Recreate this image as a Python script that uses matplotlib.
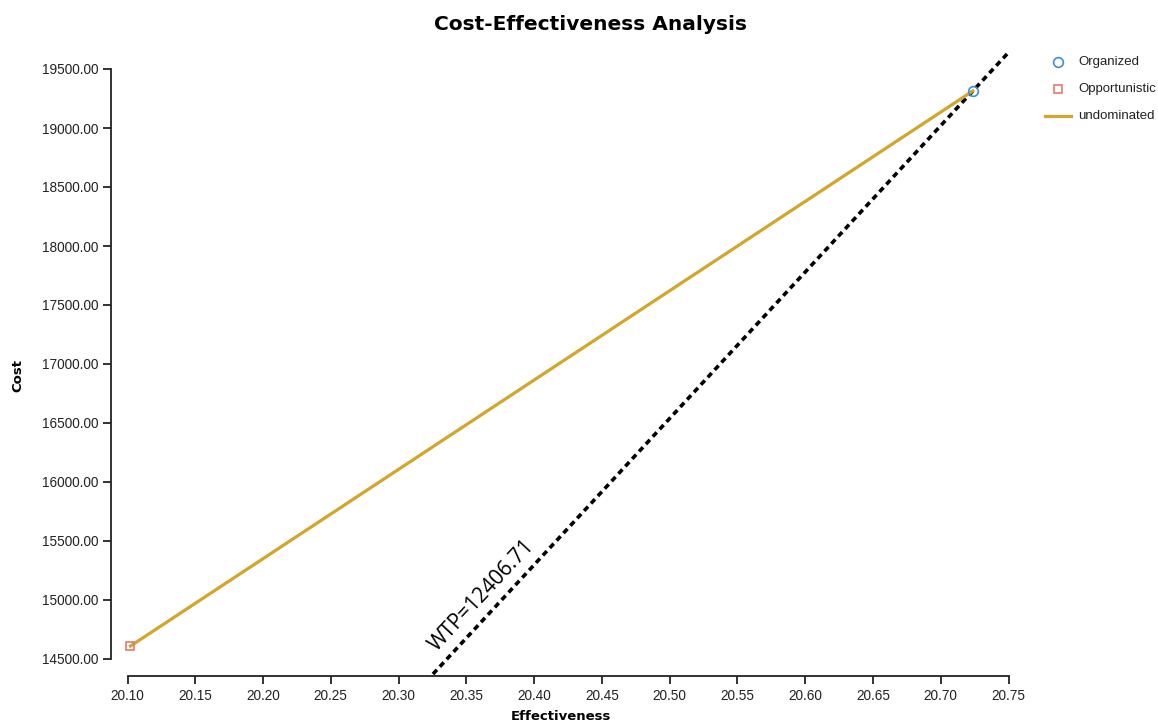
import numpy as np
import matplotlib
matplotlib.use('Agg')
import matplotlib.pyplot as plt

# Datos
strategies = ['Organized', 'Opportunistic']
effect = [20.7237, 20.1022]
cost = [19314.0, 14610.0]
wtp = 12406.71
xticks = [20.10, 20.15, 20.20, 20.25, 20.30, 20.35, 20.40, 20.45, 20.50,
          20.55, 20.60, 20.65, 20.70, 20.75]
yticks = [14500, 15000, 15500, 16000, 16500, 17000, 17500, 18000, 18500,
          19000, 19500]

W, H = 1158, 725
fig = plt.figure(figsize=(W / 100, H / 100), dpi=100)

# Área de gráfico en pixeles
x0, x1 = 111, 1008.5
y0, y1 = 50, 676
ax = fig.add_axes([x0 / W, 1 - y1 / H, (x1 - x0) / W, (y1 - y0) / H])

# Escalas: 20.10 en px 127.5, 20.75 en px 1008.5
pxx = (1008.5 - 127.5) / 0.65
xmin = 20.10 - (127.5 - x0) / pxx
pxy = 590 / 5000.0  # 19500 en px 69, 14500 en px 659
ymin = 14500 - (y1 - 659) / pxy
ymax = 19500 + (69 - y0) / pxy
ax.set_xlim(xmin, 20.75)
ax.set_ylim(ymin, ymax)

# Línea WTP por la estrategia Organized
xs = np.array([20.0, 20.8])
ys = cost[0] + wtp * (xs - effect[0])
ax.plot(xs, ys, color='black', lw=2.6, ls=(0, (1.6, 1.2)), zorder=2)

# Frontera no dominada
ax.plot([effect[1], effect[0]], [cost[1], cost[0]], color='#d4a52b', lw=2.3,
        zorder=3)
ax.plot(effect[0], cost[0], 'o', mfc='none', mec='#3b8fd4', ms=7, mew=1.2,
        zorder=4, clip_on=False)
ax.plot(effect[1], cost[1], 's', mfc='none', mec='#e57a6a', ms=6, mew=1.2,
        zorder=4, clip_on=False)

ax.text(482, H - 596, 'WTP=12406.71', transform=None, fontsize=15,
        family='Open Sans', fontweight='medium', rotation=47, ha='center',
        va='center', rotation_mode='anchor')

# Ejes estilo d3
for s in ['top', 'right']:
    ax.spines[s].set_visible(False)
ax.spines['left'].set_bounds(14500, 19500)
ax.spines['bottom'].set_bounds(20.10, 20.75)
for s in ['left', 'bottom']:
    ax.spines[s].set_linewidth(1.3)
    ax.spines[s].set_color('#222222')
ax.set_xticks(xticks)
ax.set_xticklabels([f'{v:.2f}' for v in xticks])
ax.set_yticks(yticks)
ax.set_yticklabels([f'{v:.2f}' for v in yticks])
ax.tick_params(length=6, width=1.3, color='#222222', labelsize=9.8,
               pad=3)
for lb in ax.get_xticklabels() + ax.get_yticklabels():
    lb.set_family('Liberation Sans')
    lb.set_color('#222222')

fig.text(591 / W, 1 - 25 / H, 'Cost-Effectiveness Analysis', ha='center',
         va='center', fontsize=14.5, fontweight='bold', family='DejaVu Sans')
fig.text(561 / W, 1 - 716 / H, 'Effectiveness', ha='center', va='center',
         fontsize=9.5, fontweight='bold', family='DejaVu Sans')
fig.text(18 / W, 1 - 375 / H, 'Cost', ha='center', va='center', rotation=90,
         fontsize=9.5, fontweight='bold', family='DejaVu Sans')

# Leyenda manual
fig.lines.append(plt.Line2D([1058 / W], [1 - 62 / H], marker='o', mfc='none',
                            mec='#3b8fd4', ms=7, mew=1.2, ls='none',
                            transform=fig.transFigure))
fig.lines.append(plt.Line2D([1058 / W], [1 - 89 / H], marker='s', mfc='none',
                            mec='#e57a6a', ms=6, mew=1.2, ls='none',
                            transform=fig.transFigure))
fig.lines.append(plt.Line2D([1045 / W, 1071 / W], [1 - 116 / H, 1 - 116 / H],
                            color='#d4a52b', lw=2.3,
                            transform=fig.transFigure))
for i, lbl in enumerate(strategies + ['undominated']):
    fig.text(1078 / W, 1 - (62 + 27 * i) / H, lbl, va='center', ha='left',
             fontsize=9.5, family='Liberation Sans', color='#222222')

fig.savefig('out.png', dpi=100)
